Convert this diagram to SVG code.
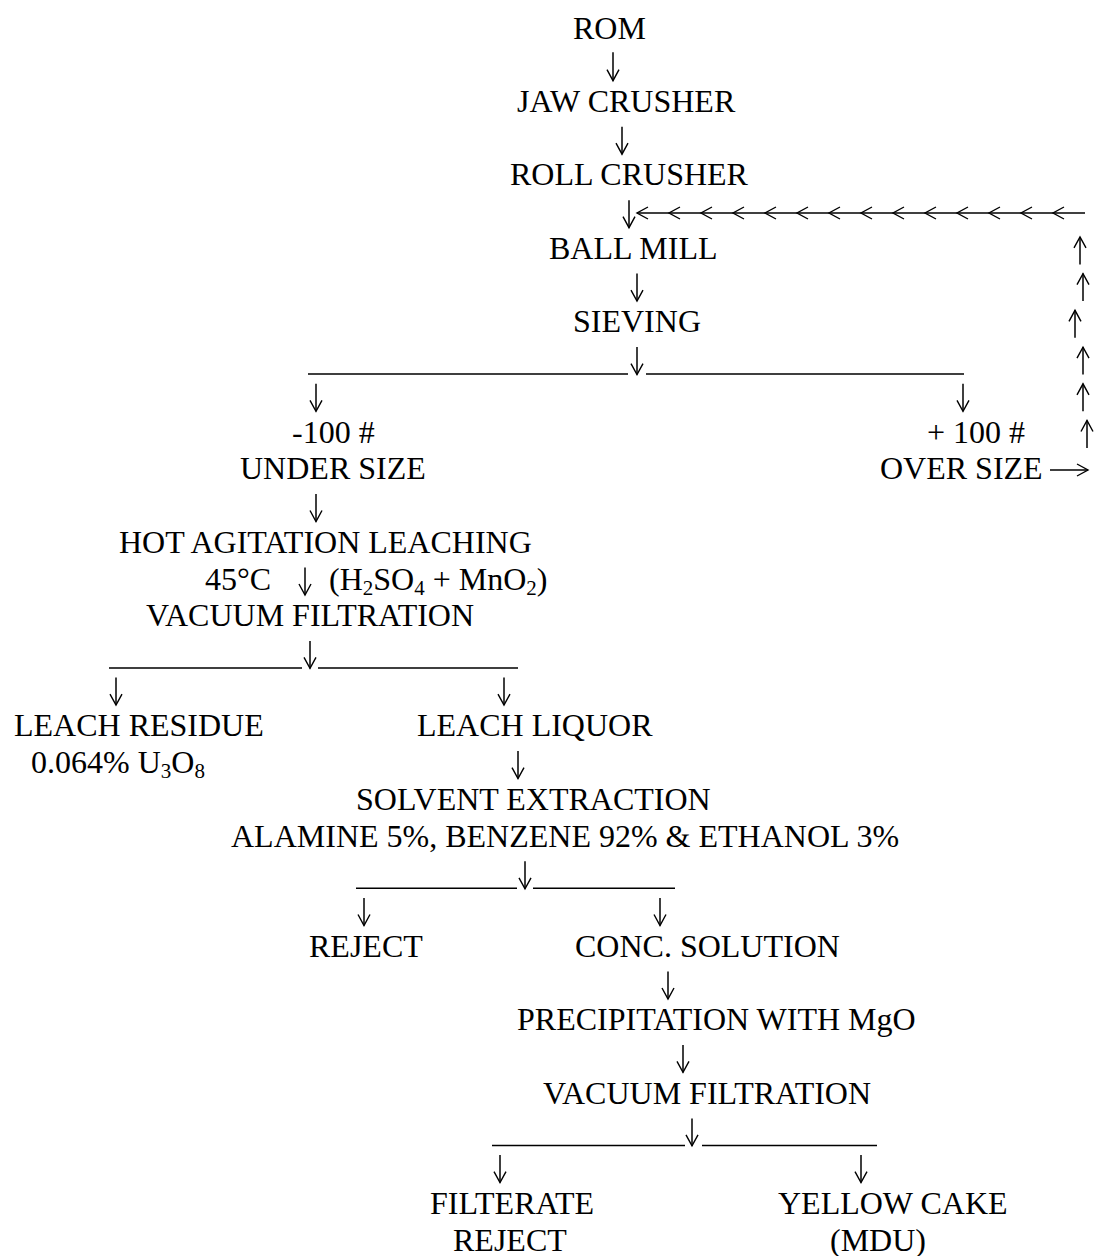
<svg xmlns="http://www.w3.org/2000/svg" width="1094" height="1256" viewBox="0 0 1094 1256">
<style>
text{font-family:"Liberation Serif","Times New Roman",serif;font-size:32px;fill:#000}
.sub{font-size:21px}
.c{fill:none;stroke:#000;stroke-width:1.5}
.a{marker-end:url(#ah)}
.la{marker-mid:url(#ah);marker-end:url(#ah)}
</style>
<defs>
<marker id="ah" markerUnits="userSpaceOnUse" markerWidth="14" markerHeight="14" refX="12" refY="7" orient="auto" overflow="visible">
<path d="M1 1 L12 7 L1 13" fill="none" stroke="#000" stroke-width="1.4"/>
</marker>
</defs>
<rect width="1094" height="1256" fill="#fff"/>
<g id="connectors">
<path class="c a" d="M613 52.2V80.7"/>
<path class="c a" d="M622 126.7V154.2"/>
<path class="c a" d="M629 200.2V227.7"/>
<path class="c la" d="M1085 213H1053H1021H989H957H925H893H861H829H797H765H733H701H669H637"/>
<path class="c a" d="M1080 264.4V236.9"/>
<path class="c a" d="M1083 301.1V273.6"/>
<path class="c a" d="M1075 337.8V310.3"/>
<path class="c a" d="M1083 374.6V347.1"/>
<path class="c a" d="M1083 411.3V383.8"/>
<path class="c a" d="M1087 448V420.5"/>
<path class="c a" d="M1050 470H1088"/>
<path class="c a" d="M637 273.6V301.1"/>
<path class="c" d="M308 374.1H628M646 374.1H964"/>
<path class="c a" d="M637 347.1V374.6"/>
<path class="c a" d="M316 383.8V411.3"/>
<path class="c a" d="M963 383.8V411.3"/>
<path class="c a" d="M316 494V521.5"/>
<path class="c a" d="M305 567.5V595"/>
<path class="c" d="M109 667.9H302M318 667.9H518"/>
<path class="c a" d="M310 640.9V668.4"/>
<path class="c a" d="M116 677.6V705.1"/>
<path class="c a" d="M504 677.6V705.1"/>
<path class="c a" d="M518 751.1V778.6"/>
<path class="c" d="M356 888.3H517M533 888.3H675"/>
<path class="c a" d="M525 861.3V888.8"/>
<path class="c a" d="M364 898V925.5"/>
<path class="c a" d="M660 898V925.5"/>
<path class="c a" d="M668 971.5V999"/>
<path class="c a" d="M683 1044.9V1072.4"/>
<path class="c" d="M492 1145.4H685M702 1145.4H877"/>
<path class="c a" d="M692 1118.4V1145.9"/>
<path class="c a" d="M500 1155.1V1182.6"/>
<path class="c a" d="M861 1155.1V1182.6"/>
</g>
<g id="rom"><text x="573" y="38.5">ROM</text></g>
<g id="jaw-crusher"><text x="517" y="111.9">JAW CRUSHER</text></g>
<g id="roll-crusher"><text x="510" y="185.4">ROLL CRUSHER</text></g>
<g id="ball-mill"><text x="549" y="258.9">BALL MILL</text></g>
<g id="sieving"><text x="573" y="332.3">SIEVING</text></g>
<g id="under-size"><text x="292" y="442.5">-100 #</text><text x="240" y="479.3">UNDER SIZE</text></g>
<g id="over-size"><text x="927" y="442.5">+ 100 #</text><text x="880" y="479.3">OVER SIZE</text></g>
<g id="hot-agitation-leaching"><text x="119" y="552.7">HOT AGITATION LEACHING</text></g>
<g id="leach-conditions"><text x="205" y="589.5">45°C</text><text x="329" y="589.5">(H<tspan class="sub" dy="5">2</tspan><tspan dy="-5">SO</tspan><tspan class="sub" dy="5">4</tspan><tspan dy="-5"> + MnO</tspan><tspan class="sub" dy="5">2</tspan><tspan dy="-5">)</tspan></text></g>
<g id="vacuum-filtration-1"><text x="146" y="626.2">VACUUM FILTRATION</text></g>
<g id="leach-residue"><text x="14" y="736.4">LEACH RESIDUE</text><text x="31" y="773.1">0.064% U<tspan class="sub" dy="5">3</tspan><tspan dy="-5">O</tspan><tspan class="sub" dy="5">8</tspan></text></g>
<g id="leach-liquor"><text x="417" y="736.4">LEACH LIQUOR</text></g>
<g id="solvent-extraction"><text x="356" y="809.8">SOLVENT EXTRACTION</text><text x="231" y="846.6">ALAMINE 5%, BENZENE 92% &amp; ETHANOL 3%</text></g>
<g id="reject-1"><text x="309" y="956.8">REJECT</text></g>
<g id="conc-solution"><text x="575" y="956.8">CONC. SOLUTION</text></g>
<g id="precipitation"><text x="517" y="1030.2">PRECIPITATION WITH MgO</text></g>
<g id="vacuum-filtration-2"><text x="543" y="1103.7">VACUUM FILTRATION</text></g>
<g id="filterate-reject"><text x="430" y="1213.9">FILTERATE</text><text x="453" y="1250.6">REJECT</text></g>
<g id="yellow-cake"><text x="778" y="1213.9">YELLOW CAKE</text><text x="830" y="1250.6">(MDU)</text></g>
</svg>
